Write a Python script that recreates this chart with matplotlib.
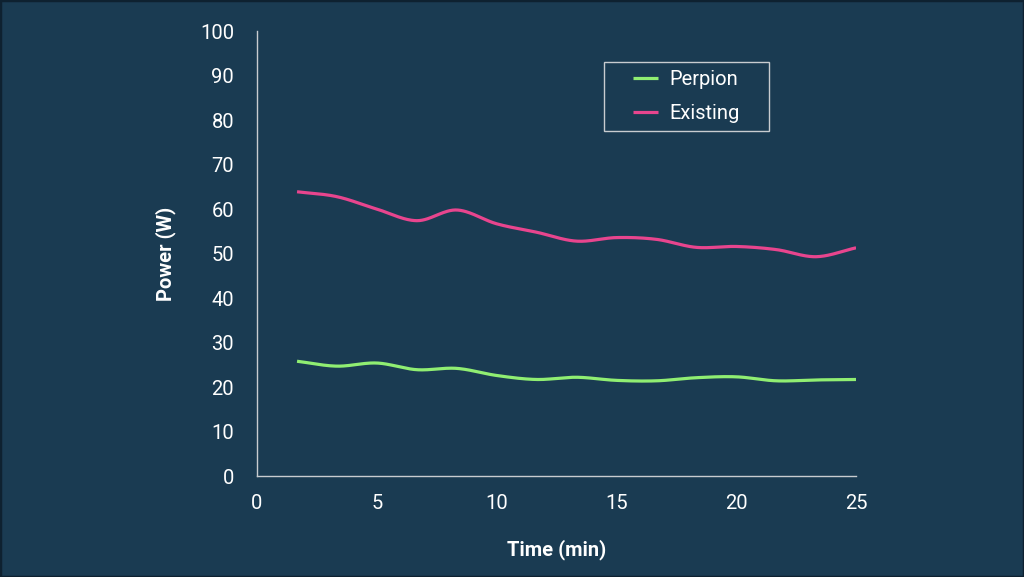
import numpy as np
import matplotlib.pyplot as plt
from matplotlib.patches import Rectangle

time_min = [1.67, 3.33, 5.0, 6.67, 8.33, 10.0, 11.67, 13.33, 15.0, 16.67, 18.33, 20.0, 21.67, 23.33, 25.0]
perpion = [25.8, 24.7, 25.4, 23.9, 24.2, 22.6, 21.7, 22.2, 21.5, 21.4, 22.1, 22.3, 21.4, 21.6, 21.7]
existing = [63.9, 62.8, 60.0, 57.4, 59.8, 56.7, 54.8, 52.8, 53.6, 53.2, 51.4, 51.6, 50.9, 49.3, 51.3]

x_ticks = [0, 5, 10, 15, 20, 25]
y_ticks = [0, 10, 20, 30, 40, 50, 60, 70, 80, 90, 100]

BG = '#1a3b52'
AXIS = '#c8ccd0'
TEXT = '#ffffff'
GREEN = '#90ee72'
PINK = '#e8458e'


def smooth(x, y, n=30):
    # catmull-rom through the points, like a spreadsheet "smoothed line"
    x = np.asarray(x, float)
    y = np.asarray(y, float)
    px = np.concatenate([[2 * x[0] - x[1]], x, [2 * x[-1] - x[-2]]])
    py = np.concatenate([[2 * y[0] - y[1]], y, [2 * y[-1] - y[-2]]])
    t = np.linspace(0, 1, n, endpoint=False)
    xs, ys = [], []
    for i in range(1, len(px) - 2):
        for p, out in ((px, xs), (py, ys)):
            p0, p1, p2, p3 = p[i - 1], p[i], p[i + 1], p[i + 2]
            out.extend(0.5 * (2 * p1 + (-p0 + p2) * t
                              + (2 * p0 - 5 * p1 + 4 * p2 - p3) * t ** 2
                              + (-p0 + 3 * p1 - 3 * p2 + p3) * t ** 3))
    xs.append(x[-1])
    ys.append(y[-1])
    return xs, ys


def main():
    plt.rcParams['font.family'] = ['Roboto', 'DejaVu Sans']
    fig = plt.figure(figsize=(10.24, 5.77), dpi=100, facecolor=BG)
    fig.patches.append(Rectangle((0, 0), 1, 1, transform=fig.transFigure,
                                 fill=False, edgecolor='#0e2130', linewidth=2.5))
    ax = fig.add_axes([0.251, 0.175, 0.585, 0.771])
    ax.set_facecolor(BG)

    sx, sy = smooth(time_min, perpion)
    ax.plot(sx, sy, color=GREEN, linewidth=2.3, label='Perpion', solid_capstyle='butt')
    sx, sy = smooth(time_min, existing)
    ax.plot(sx, sy, color=PINK, linewidth=2.3, label='Existing', solid_capstyle='butt')

    ax.set_xlim(0, 25)
    ax.set_ylim(0, 100)
    ax.set_xticks(x_ticks)
    ax.set_yticks(y_ticks)
    ax.tick_params(length=0, labelsize=14.5, labelcolor=TEXT)
    ax.tick_params(axis='y', pad=16.5)
    ax.tick_params(axis='x', pad=13)
    for side in ('top', 'right'):
        ax.spines[side].set_visible(False)
    for side in ('left', 'bottom'):
        ax.spines[side].set_color(AXIS)
        ax.spines[side].set_linewidth(1.0)

    ax.set_xlabel('Time (min)', fontsize=14.5, fontweight='bold', color=TEXT)
    ax.set_ylabel('Power (W)', fontsize=14.5, fontweight='bold', color=TEXT)
    ax.xaxis.set_label_coords(0.5, -0.143)
    ax.yaxis.set_label_coords(-0.135, 0.5)

    # legend frame drawn separately so the inner padding can match
    ax.add_patch(Rectangle((0.579, 0.775), 0.276, 0.155, transform=ax.transAxes,
                           fill=False, edgecolor=AXIS, linewidth=1.0, clip_on=False))
    leg = ax.legend(loc='center left', bbox_to_anchor=(0.628, 0.853), fontsize=14.5,
                    frameon=False, handlelength=1.25, handletextpad=0.55,
                    borderpad=0, labelspacing=0.75, borderaxespad=0)
    for text in leg.get_texts():
        text.set_color(TEXT)

    fig.savefig('out.png', dpi=100, facecolor=BG)


if __name__ == '__main__':
    main()
